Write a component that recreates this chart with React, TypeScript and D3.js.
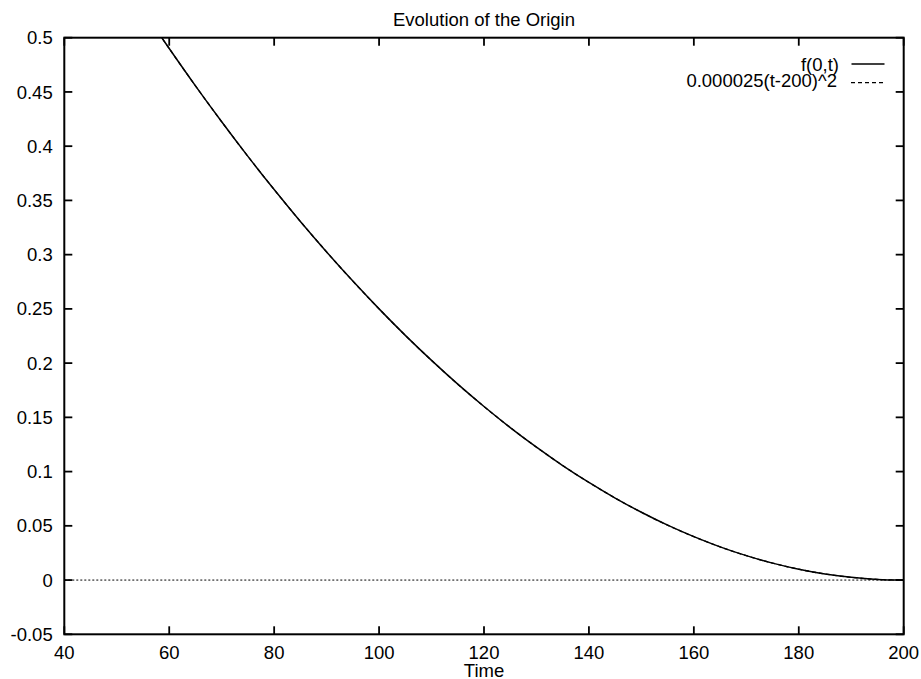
import React from "react";
import * as d3 from "d3";

const W = 921;
const H = 679;

const title = "Evolution of the Origin";
const xLabel = "Time";
const seriesNames = ["f(0,t)", "0.000025(t-200)^2"];

const xTicks = [40, 60, 80, 100, 120, 140, 160, 180, 200];
const yTicks = [-0.05, 0, 0.05, 0.1, 0.15, 0.2, 0.25, 0.3, 0.35, 0.4, 0.45, 0.5];
const yTickLabels = ["-0.05", "0", "0.05", "0.1", "0.15", "0.2", "0.25", "0.3", "0.35", "0.4", "0.45", "0.5"];

// time samples and values
const times = [58, 60, 65, 70, 75, 80, 85, 90, 95, 100, 105, 110, 115, 120, 125, 130, 135, 140, 145, 150, 155, 160, 165, 170, 175, 180, 185, 190, 195, 200];
const fValues = [0.5041, 0.49, 0.4556, 0.4225, 0.3906, 0.36, 0.3306, 0.3025, 0.2756, 0.25, 0.2256, 0.2025, 0.1806, 0.16, 0.1406, 0.1225, 0.1056, 0.09, 0.0756, 0.0625, 0.0506, 0.04, 0.0306, 0.0225, 0.0156, 0.01, 0.0056, 0.0025, 0.0006, 0];
const qValues = [0.5041, 0.49, 0.4556, 0.4225, 0.3906, 0.36, 0.3306, 0.3025, 0.2756, 0.25, 0.2256, 0.2025, 0.1806, 0.16, 0.1406, 0.1225, 0.1056, 0.09, 0.0756, 0.0625, 0.0506, 0.04, 0.0306, 0.0225, 0.0156, 0.01, 0.0056, 0.0025, 0.0006, 0];

const L = 64.3, R = 903.7, T = 37.7, B = 634.3;
const FONT = "'Liberation Sans', Arial, Helvetica, sans-serif";

export default function App() {
  const x = d3.scaleLinear().domain([40, 200]).range([L, R]);
  const y = d3.scaleLinear().domain([-0.05, 0.5]).range([B, T]);
  const line = d3
    .line<number>()
    .x((_, i) => x(times[i]))
    .y((d) => y(d))
    .curve(d3.curveCatmullRom);
  const tl = 8;
  return (
    <svg
      width={W}
      height={H}
      style={{ position: "fixed", left: 0, top: 0, background: "#fff" }}
      fontFamily={FONT}
      fontSize={18.5}
    >
      <rect x={0} y={0} width={W} height={H} fill="#fff" />
      <defs>
        <clipPath id="plot">
          <rect x={L} y={T} width={R - L} height={B - T} />
        </clipPath>
      </defs>
      {/* zero line */}
      <line x1={L} x2={R} y1={y(0)} y2={y(0)} stroke="#000" strokeWidth={1} strokeDasharray="2,2" />
      {/* curves */}
      <g clipPath="url(#plot)">
        <path d={line(qValues) || ""} fill="none" stroke="#000" strokeWidth={1.3} strokeDasharray="4,3" />
        <path d={line(fValues) || ""} fill="none" stroke="#000" strokeWidth={1.5} />
      </g>
      {/* ticks */}
      {xTicks.map((t) => (
        <g key={"x" + t}>
          <line x1={x(t)} x2={x(t)} y1={B} y2={B - tl} stroke="#000" strokeWidth={1.8} />
          <line x1={x(t)} x2={x(t)} y1={T} y2={T + tl} stroke="#000" strokeWidth={1.8} />
          <text x={x(t)} y={659.3} textAnchor="middle" fill="#000">
            {t}
          </text>
        </g>
      ))}
      {yTicks.map((t, i) => (
        <g key={"y" + t}>
          <line x1={L} x2={L + tl} y1={y(t)} y2={y(t)} stroke="#000" strokeWidth={1.8} />
          <line x1={R} x2={R - tl} y1={y(t)} y2={y(t)} stroke="#000" strokeWidth={1.8} />
          <text x={52.7} y={y(t) + 6.6} textAnchor="end" fill="#000">
            {yTickLabels[i]}
          </text>
        </g>
      ))}
      {/* frame */}
      <rect x={L} y={T} width={R - L} height={B - T} fill="none" stroke="#000" strokeWidth={2} />
      {/* title & labels */}
      <text x={484} y={25.7} textAnchor="middle" fill="#000">
        {title}
      </text>
      <text x={484} y={676.5} textAnchor="middle" fill="#000">
        {xLabel}
      </text>
      {/* legend */}
      <text x={839} y={71} textAnchor="end" fill="#000">
        {seriesNames[0]}
      </text>
      <line x1={851.5} x2={884.5} y1={64} y2={64} stroke="#000" strokeWidth={1.5} />
      <text x={837} y={87} textAnchor="end" fill="#000">
        {seriesNames[1]}
      </text>
      <line x1={851} x2={885} y1={82.7} y2={82.7} stroke="#000" strokeWidth={1.3} strokeDasharray="4,3" />
    </svg>
  );
}
